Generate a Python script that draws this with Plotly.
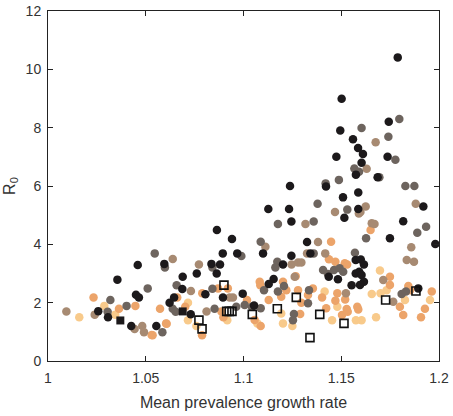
import plotly.graph_objects as go

# ---- data (x = mean prevalence growth rate, y = R0) ----
black_x = [1.1789, 1.1502, 1.1743, 1.1495, 1.1560, 1.1586, 1.1611, 1.1475, 1.1737, 1.1604,
           1.1575, 1.1686, 1.1422, 1.1238, 1.1509, 1.1587, 1.1920, 1.1587, 1.1127, 1.1233,
           1.1516, 1.1245, 1.1325, 1.1100, 1.1245, 1.1342, 1.1202, 1.1436, 1.1483, 1.1154,
           1.1129, 1.1054, 1.1817, 1.1749, 1.1981, 1.1574, 1.1600, 1.1616, 1.1592, 1.1574,
           1.1604, 1.1616, 1.1596, 1.1553, 1.1894,
           1.0355, 1.0459, 1.0450, 1.0465, 1.0257, 1.0307, 1.0426, 1.0554, 1.0595, 1.0622,
           1.0645, 1.0689, 1.0687, 1.0761, 1.0836, 1.0880, 1.0863, 1.0864, 1.0941, 1.0894,
           1.0968, 1.0805, 1.0895, 1.0996, 1.0730]
black_y = [10.41, 8.99, 8.20, 7.90, 7.60, 7.30, 7.10, 7.00, 7.00, 6.80,
           6.39, 6.30, 5.98, 6.00, 5.61, 5.78, 5.30, 5.21, 5.21, 5.21,
           4.91, 4.78, 4.08, 3.69, 3.61, 3.69, 3.31, 2.89, 2.80, 2.81,
           2.64, 1.90, 4.79, 4.21, 4.01, 3.46, 3.48, 3.31, 3.06, 3.00,
           2.95, 2.72, 2.61, 2.60, 2.49,
           2.79, 3.29, 2.27, 2.18, 1.71, 1.50, 1.20, 1.20, 3.33, 2.00,
           2.18, 2.89, 2.47, 3.00, 3.33, 3.31, 3.00, 4.49, 4.18, 3.69,
           3.69, 2.29, 2.18, 2.31, 1.60]

dark_x = [1.1797, 1.1604, 1.1741, 1.1777, 1.1567, 1.1591, 1.1695, 1.1420, 1.1488, 1.1828,
          1.1874, 1.1379, 1.1531, 1.1176, 1.1359, 1.1088, 1.1359, 1.1173, 1.1163, 1.1407,
          1.1432, 1.1463, 1.1492, 1.1510, 1.1105, 1.1207, 1.1176, 1.1335, 1.1330, 1.1258,
          1.1253, 1.1627, 1.1934, 1.1889, 1.1570, 1.1809, 1.1831, 1.1088,
          1.0305, 1.0319, 1.0402, 1.0510, 1.0546, 1.0598, 1.0585, 1.0658, 1.0841, 1.0841,
          1.0989, 1.1006, 1.1043, 1.0963, 1.0638, 1.0653, 1.0852]
dark_y = [8.30, 7.99, 7.69, 6.90, 6.60, 6.49, 6.30, 6.09, 6.21, 6.00,
          6.00, 5.39, 5.19, 4.70, 4.78, 4.09, 3.69, 3.40, 3.21, 3.12,
          2.98, 3.12, 3.18, 3.06, 2.43, 2.57, 2.38, 2.43, 1.98, 1.61,
          1.40, 4.21, 4.60, 4.40, 3.71, 2.30, 2.38, 1.81,
          1.69, 2.09, 1.89, 2.49, 3.69, 3.21, 0.99, 2.60, 3.21, 2.48,
          3.60, 1.92, 1.86, 1.86, 1.79, 1.69, 1.79]

tan_x = [1.1676, 1.1630, 1.1881, 1.1468, 1.1625, 1.1598, 1.1590, 1.1317, 1.1381, 1.1112,
         1.1325, 1.1418, 1.1246, 1.1279, 1.1296, 1.1262, 1.1656, 1.1670, 1.1858, 1.1835,
         1.1872, 1.1715, 1.1524, 1.1766,
         1.0094, 1.0239, 1.0443, 1.0482, 1.0491, 1.0638, 1.0772, 1.0731, 1.0811, 1.0929,
         1.0946]
tan_y = [7.50, 6.59, 5.39, 5.11, 5.30, 5.11, 5.06, 4.70, 4.08, 3.92,
         3.69, 3.69, 3.31, 3.38, 3.38, 2.89, 4.72, 4.70, 3.90, 3.46,
         3.40, 2.78, 2.32, 2.03,
         1.70, 1.59, 1.10, 1.20, 0.99, 3.50, 3.31, 2.40, 1.70, 2.18,
         2.18]

orange_x = [1.1448, 1.1437, 1.1470, 1.1518, 1.1083, 1.1086, 1.1202, 1.1267, 1.1219, 1.1193,
            1.1129, 1.1057, 1.1088, 1.1279, 1.1330, 1.1355, 1.1402, 1.1480, 1.1470, 1.1296,
            1.1290, 1.1504, 1.1423, 1.1650, 1.1530, 1.1749, 1.1749, 1.1843, 1.1852, 1.1963,
            1.1800, 1.1928, 1.1817, 1.1908, 1.1520, 1.1528, 1.1533, 1.1582, 1.1587,
            1.0233, 1.0363, 1.0447, 1.0530, 1.0604, 1.0573, 1.0661, 1.0702, 1.0789, 1.0870,
            1.0920, 1.1018, 1.0887, 1.0897, 1.0607, 1.0535, 1.0788]
orange_y = [4.09, 3.49, 3.40, 3.35, 2.72, 2.60, 2.72, 2.91, 2.43, 2.20,
            2.09, 1.41, 1.20, 2.43, 2.26, 2.49, 2.18, 2.32, 2.07, 2.00,
            1.61, 1.58, 1.81, 4.49, 3.31, 2.89, 2.61, 2.57, 2.43, 2.38,
            1.86, 1.79, 1.58, 1.50, 2.11, 1.78, 1.69, 1.86, 1.77,
            2.18, 1.79, 1.89, 0.89, 1.29, 1.79, 2.18, 1.86, 2.32, 2.49,
            2.49, 2.09, 1.70, 1.50, 1.28, 0.88, 0.88]

light_x = [1.1415, 1.1480, 1.1071, 1.1193, 1.1202, 1.1250, 1.1453, 1.1698, 1.1732, 1.1701,
           1.1656, 1.1954, 1.1826, 1.1575, 1.1604, 1.1678,
           1.0160, 1.0288, 1.0344, 1.0716, 1.0716, 1.0759, 1.0917]
light_y = [2.38, 1.86, 1.29, 1.63, 1.29, 1.20, 1.40, 3.10, 2.43, 2.32,
           2.30, 2.09, 2.09, 1.40, 1.40, 1.50,
           1.50, 1.89, 1.59, 2.00, 1.40, 1.20, 1.40]

open_sq_x = [1.0900, 1.0914, 1.0927, 1.0941, 1.0772, 1.0788, 1.1045, 1.1173, 1.1270, 1.1390,
             1.1340, 1.1514, 1.1727, 1.1882]
open_sq_y = [2.60, 1.70, 1.70, 1.70, 1.40, 1.10, 1.60, 1.79, 2.18, 1.60,
             0.80, 1.29, 2.09, 2.40]

filled_sq_x = [1.0370, 1.0689]
filled_sq_y = [1.39, 1.70]

x_ticks = [1, 1.05, 1.1, 1.15, 1.2]
x_tick_labels = ["1", "1.05", "1.1", "1.15", "1.2"]
y_ticks = [0, 2, 4, 6, 8, 10, 12]

# ---- figure ----
fig = go.Figure()

series = [
    (light_x, light_y, "#f8ca8b"),
    (orange_x, orange_y, "#eca46a"),
    (tan_x, tan_y, "#a78a72"),
    (dark_x, dark_y, "#6d645e"),
    (black_x, black_y, "#1c191b"),
]
for xs, ys, col in series:
    fig.add_trace(go.Scatter(x=xs, y=ys, mode="markers",
                             marker=dict(size=8.5, color=col, line=dict(width=0)),
                             showlegend=False, hoverinfo="skip"))

fig.add_trace(go.Scatter(x=filled_sq_x, y=filled_sq_y, mode="markers",
                         marker=dict(symbol="square", size=8, color="#1c191b", line=dict(width=0)),
                         showlegend=False, hoverinfo="skip"))
fig.add_trace(go.Scatter(x=open_sq_x, y=open_sq_y, mode="markers",
                         marker=dict(symbol="square-open", size=8, color="#111111",
                                     line=dict(width=1.6, color="#111111")),
                         showlegend=False, hoverinfo="skip"))

axis_common = dict(showgrid=False, zeroline=False, showline=True, linecolor="#222222",
                   linewidth=1, mirror="ticks", ticks="inside", ticklen=5, tickwidth=1,
                   tickcolor="#222222",
                   tickfont=dict(family="Liberation Sans, Arial, sans-serif", size=14, color="#333333"))

fig.update_layout(
    width=453, height=416,
    margin=dict(l=48, r=14, t=11, b=55, autoexpand=False),
    paper_bgcolor="white", plot_bgcolor="white",
    font=dict(family="Liberation Sans, Arial, sans-serif", color="#333333"),
    xaxis=dict(range=[1, 1.2], tickvals=x_ticks, ticktext=x_tick_labels,
               ticklabelstandoff=4,
               title=dict(text="Mean prevalence growth rate",
                          font=dict(size=16, color="#333333"), standoff=12),
               **axis_common),
    yaxis=dict(range=[0, 12], tickvals=y_ticks, ticklabelstandoff=3,
               title=dict(text="R<sub>0</sub>", font=dict(size=16, color="#333333"), standoff=6),
               **axis_common),
)

fig.write_html("out.html",
               config={"displayModeBar": False},
               post_script="document.body.style.margin='0';document.body.style.overflow='hidden';")
